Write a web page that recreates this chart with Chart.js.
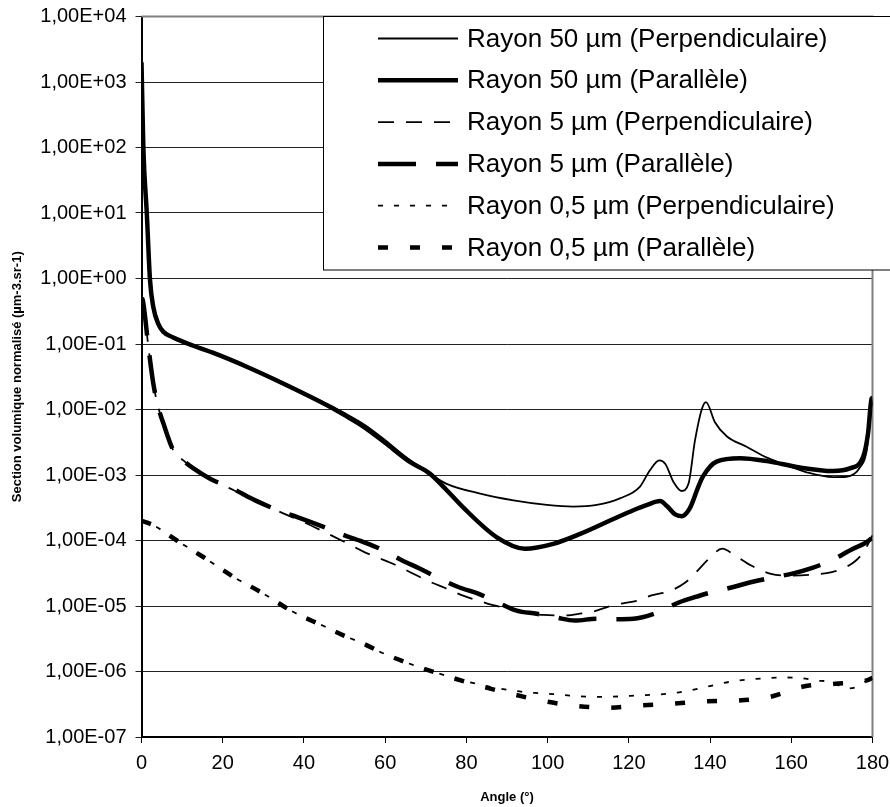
<!DOCTYPE html>
<html>
<head>
<meta charset="utf-8">
<script src="https://cdn.jsdelivr.net/npm/chart.js@4.4.1/dist/chart.umd.min.js"></script>
<style>
  html, body { margin: 0; padding: 0; background: #fff; }
  #wrap { position: relative; width: 890px; height: 807px; }
</style>
</head>
<body>
<div id="wrap"><canvas id="chart" width="890" height="807"></canvas></div>
<script>
// Axis ticks
const xTicks = [0, 20, 40, 60, 80, 100, 120, 140, 160, 180];
const yTickExponents = [4, 3, 2, 1, 0, -1, -2, -3, -4, -5, -6, -7];

// Rayon 50 µm (Perpendiculaire)
const anglesR50Perp = [0, 0.45, 1.3, 2.1, 2.9, 4.1, 5.4, 7.8, 10.3, 13.6, 17.7, 25.9, 34.1, 46.4, 50, 55, 60, 65, 71, 75, 83.4, 91.6, 99.8, 106.3, 112.1, 117.8, 122.7, 125.2, 127.5, 129, 131, 133, 134.7, 136.3, 138, 139, 141.2, 144.1, 149, 154, 158.9, 163.8, 170.3, 173.6, 176.9, 178.6, 179.6, 180];
const valuesR50Perp = [2000, 100, 10, 0.94, 0.37, 0.205, 0.153, 0.126, 0.108, 0.09, 0.073, 0.045, 0.027, 0.0115, 0.0088, 0.0058, 0.0034, 0.0019, 0.00105, 7.4e-4, 5.2e-4, 4.1e-4, 3.5e-4, 3.3e-4, 3.5e-4, 4.4e-4, 6.6e-4, 1.18e-3, 1.67e-3, 1.47e-3, 7.8e-4, 5.7e-4, 7.4e-4, 3.4e-3, 0.0103, 0.013, 6.4e-3, 3.9e-3, 2.7e-3, 1.84e-3, 1.4e-3, 1.1e-3, 9.3e-4, 9.4e-4, 1.3e-3, 2.4e-3, 9.8e-3, 0.013];

// Rayon 50 µm (Parallèle)
const anglesR50Par = [0, 0.45, 1.3, 2.1, 2.9, 4.1, 5.4, 7.8, 10.3, 13.6, 17.7, 25.9, 34.1, 46.4, 50, 55, 60, 66, 71, 75, 79.2, 87.5, 94.4, 101.4, 108, 116.2, 121.1, 124.5, 127.7, 129.5, 131.4, 133, 135, 137.1, 138.3, 141.6, 147.4, 154, 162.1, 170.3, 174.4, 177.7, 178.9, 179.8, 180];
const valuesR50Par = [2000, 100, 10, 0.94, 0.37, 0.205, 0.153, 0.126, 0.108, 0.09, 0.073, 0.045, 0.0263, 0.011, 0.0082, 0.0053, 0.0031, 0.0016, 0.00105, 6e-4, 3.2e-4, 1.12e-4, 7.5e-5, 8.9e-5, 1.26e-4, 2.13e-4, 2.9e-4, 3.5e-4, 4e-4, 3.3e-4, 2.5e-4, 2.35e-4, 3.1e-4, 6.6e-4, 9.6e-4, 1.6e-3, 1.8e-3, 1.63e-3, 1.3e-3, 1.15e-3, 1.26e-3, 1.9e-3, 4.3e-3, 0.0148, 0.015];

// Rayon 5 µm (Perpendiculaire)
const anglesR5Perp = [0, 0.3, 1.7, 2.9, 4.1, 5.4, 7.8, 10.3, 12.8, 17, 22.6, 28, 34.9, 40, 45, 50, 55, 61.6, 65.7, 70, 75.5, 79.7, 85, 90.3, 94, 99, 104.7, 108.4, 111.3, 115, 118.6, 121.9, 125.6, 130.1, 134, 137, 140, 143, 146, 150, 155, 160, 165, 170, 173, 176, 178, 180];
const valuesR5Perp = [0.5, 0.47, 0.09, 0.025, 0.011, 6.1e-3, 2.4e-3, 1.67e-3, 1.25e-3, 8.5e-4, 5.9e-4, 4e-4, 2.6e-4, 1.9e-4, 1.35e-4, 9.5e-5, 6.6e-5, 4.5e-5, 3.4e-5, 2.5e-5, 1.8e-5, 1.4e-5, 1.1e-5, 9.1e-6, 7.9e-6, 7.3e-6, 7.2e-6, 7.7e-6, 8.2e-6, 9.8e-6, 1.1e-5, 1.2e-5, 1.45e-5, 1.7e-5, 2.3e-5, 3.5e-5, 5.5e-5, 7.5e-5, 6e-5, 4.2e-5, 3.1e-5, 2.9e-5, 3e-5, 3.3e-5, 3.8e-5, 5e-5, 7e-5, 1.2e-4];

// Rayon 5 µm (Parallèle)
const anglesR5Par = [0, 0.3, 1.7, 2.9, 4.1, 5.4, 7.8, 10.3, 12.8, 17, 22.6, 28, 34.9, 38.2, 45, 50, 55, 58.7, 64.1, 68.6, 73, 78, 82.9, 87.5, 92.4, 97.3, 102, 106.7, 112.1, 116.5, 121.1, 126.4, 132.6, 136, 140, 145, 150, 155, 160, 165, 170, 175.2, 178, 180];
const valuesR5Par = [0.5, 0.47, 0.09, 0.025, 0.011, 6.1e-3, 2.4e-3, 1.67e-3, 1.26e-3, 8.7e-4, 6.1e-4, 4.1e-4, 2.7e-4, 2.3e-4, 1.6e-4, 1.2e-4, 9.3e-5, 7.5e-5, 5e-5, 3.7e-5, 2.7e-5, 1.95e-5, 1.54e-5, 1.15e-5, 8.5e-6, 7.6e-6, 6.7e-6, 6e-6, 6.4e-6, 6.3e-6, 6.4e-6, 7.7e-6, 1.15e-5, 1.35e-5, 1.6e-5, 1.9e-5, 2.3e-5, 2.7e-5, 3.1e-5, 3.8e-5, 5e-5, 7.5e-5, 9e-5, 1.1e-4];

// Rayon 0,5 µm (Perpendiculaire)
const anglesR05Perp = [0, 3, 8.7, 15.2, 22.6, 30, 37.4, 45, 50, 55, 59.5, 67.8, 76, 83.4, 91.5, 97, 102, 107, 114, 122, 130, 134, 138, 141, 145.7, 150, 154, 158, 162, 166, 170, 173.7, 176, 178.6, 180];
const valuesR05Perp = [2e-4, 1.7e-4, 1e-4, 5.6e-5, 2.8e-5, 1.55e-5, 8.1e-6, 4.9e-6, 3.5e-6, 2.6e-6, 1.9e-6, 1.2e-6, 8.3e-7, 6.3e-7, 5.1e-7, 4.7e-7, 4.5e-7, 4.2e-7, 4.1e-7, 4.3e-7, 4.6e-7, 5e-7, 5.6e-7, 6.2e-7, 7.1e-7, 7.6e-7, 7.9e-7, 8.1e-7, 8e-7, 7.3e-7, 6.9e-7, 5.5e-7, 5.8e-7, 7.3e-7, 8e-7];

// Rayon 0,5 µm (Parallèle)
const anglesR05Par = [0, 3, 8.7, 15.2, 22.6, 30, 37.4, 45, 50, 55, 59.5, 67.8, 76, 83.4, 90.8, 99.4, 106.8, 114.8, 121.5, 130, 139, 147, 154.8, 163, 170.8, 178.6, 180];
const valuesR05Par = [2e-4, 1.7e-4, 1e-4, 5.6e-5, 2.8e-5, 1.55e-5, 8.1e-6, 4.9e-6, 3.5e-6, 2.6e-6, 1.9e-6, 1.2e-6, 8.2e-7, 6e-7, 4.6e-7, 3.5e-7, 3e-7, 2.8e-7, 3e-7, 3.2e-7, 3.5e-7, 3.6e-7, 4.1e-7, 5.9e-7, 6.5e-7, 7.3e-7, 8e-7];

const FONT = "'Liberation Sans', Arial, sans-serif";

function toPoints(angles, values) {
  return angles.map((a, i) => ({ x: a, y: values[i] }));
}

function series(label, angles, values, width, dash) {
  return {
    label: label,
    data: toPoints(angles, values),
    borderColor: '#000',
    backgroundColor: '#000',
    borderWidth: width,
    borderDash: dash,
    borderCapStyle: 'butt',
    pointRadius: 0,
    cubicInterpolationMode: 'monotone',
    fill: false
  };
}

function sciLabel(value) {
  const e = Math.round(Math.log10(value));
  return '1,00E' + (e < 0 ? '-' : '+') + String(Math.abs(e)).padStart(2, '0');
}

// plot frame (grey top/right) + boxed legend drawn over the plot area
const frameAndLegend = {
  id: 'frameAndLegend',
  beforeDatasetsDraw(chart) {
    const { ctx, chartArea } = chart;
    ctx.save();
    ctx.strokeStyle = '#808080';
    ctx.lineWidth = 2;
    ctx.beginPath();
    ctx.moveTo(chartArea.left, chartArea.top);
    ctx.lineTo(chartArea.right, chartArea.top);
    ctx.lineTo(chartArea.right, chartArea.bottom);
    ctx.stroke();
    ctx.restore();
  },
  afterDatasetsDraw(chart) {
    const { ctx, chartArea } = chart;
    const left = chartArea.left + 181.5;
    const top = chartArea.top;
    ctx.save();
    ctx.fillStyle = '#fff';
    ctx.fillRect(left, top, 600, 253.5);
    ctx.strokeStyle = '#000';
    ctx.lineWidth = 1;
    ctx.strokeRect(left + 0.5, top, 600, 253.5);

    ctx.font = '26px ' + FONT;
    ctx.textBaseline = 'middle';
    chart.data.datasets.forEach((ds, i) => {
      const y = top + 22 + i * 41.8;
      ctx.beginPath();
      ctx.setLineDash(ds.borderDash || []);
      ctx.lineCap = 'butt';
      ctx.lineWidth = ds.borderWidth;
      ctx.strokeStyle = '#000';
      ctx.moveTo(left + 55, y);
      ctx.lineTo(left + 135, y);
      ctx.stroke();
      ctx.setLineDash([]);
      ctx.fillStyle = '#000';
      ctx.fillText(ds.label, left + 144, y + 1);
    });
    ctx.restore();
  }
};

const ctx = document.getElementById('chart').getContext('2d');

new Chart(ctx, {
  type: 'line',
  data: {
    datasets: [
      series('Rayon 50 µm (Perpendiculaire)', anglesR50Perp, valuesR50Perp, 1.8, []),
      series('Rayon 50 µm (Parallèle)', anglesR50Par, valuesR50Par, 4.5, []),
      series('Rayon 5 µm (Perpendiculaire)', anglesR5Perp, valuesR5Perp, 1.8, [16, 12]),
      series('Rayon 5 µm (Parallèle)', anglesR5Par, valuesR5Par, 4.5, [38, 20]),
      series('Rayon 0,5 µm (Perpendiculaire)', anglesR05Perp, valuesR05Perp, 1.8, [5, 11]),
      series('Rayon 0,5 µm (Parallèle)', anglesR05Par, valuesR05Par, 4.5, [10, 22])
    ]
  },
  options: {
    responsive: false,
    animation: false,
    devicePixelRatio: 1,
    layout: { padding: { left: 0, right: 17.5, top: 16.5, bottom: 0 } },
    plugins: {
      legend: { display: false },
      tooltip: { enabled: false }
    },
    scales: {
      x: {
        type: 'linear',
        min: 0,
        max: 180,
        afterBuildTicks: (scale) => { scale.ticks = xTicks.map(v => ({ value: v })); },
        afterFit: (scale) => {
          scale.height = 70;
          scale.paddingLeft = 0;
          scale.paddingRight = 0;
        },
        grid: { drawOnChartArea: false, drawTicks: true, tickLength: 6, color: '#000', lineWidth: 1 },
        border: { color: '#000', width: 2 },
        ticks: {
          color: '#000',
          padding: 8,
          maxRotation: 0,
          font: { family: FONT, size: 20 }
        },
        title: {
          display: true,
          text: 'Angle (°)',
          color: '#000',
          font: { family: FONT, size: 13, weight: 'bold' },
          padding: { top: 4, bottom: 2 }
        }
      },
      y: {
        type: 'logarithmic',
        min: 1e-7,
        max: 1e4,
        afterBuildTicks: (scale) => { scale.ticks = yTickExponents.map(e => ({ value: Number('1e' + e) })); },
        afterFit: (scale) => {
          scale.width = 141.5;
          scale.paddingTop = 0;
          scale.paddingBottom = 0;
        },
        grid: { color: '#222', lineWidth: 1, tickLength: 6 },
        border: { color: '#000', width: 2 },
        ticks: {
          color: '#000',
          padding: 9,
          autoSkip: false,
          font: { family: FONT, size: 20 },
          callback: (value) => sciLabel(value)
        },
        title: {
          display: true,
          text: 'Section volumique normalisé (µm-3.sr-1)',
          color: '#000',
          font: { family: FONT, size: 13, weight: 'bold' },
          padding: { top: 10, bottom: 0 }
        }
      }
    }
  },
  plugins: [frameAndLegend]
});
</script>
</body>
</html>
